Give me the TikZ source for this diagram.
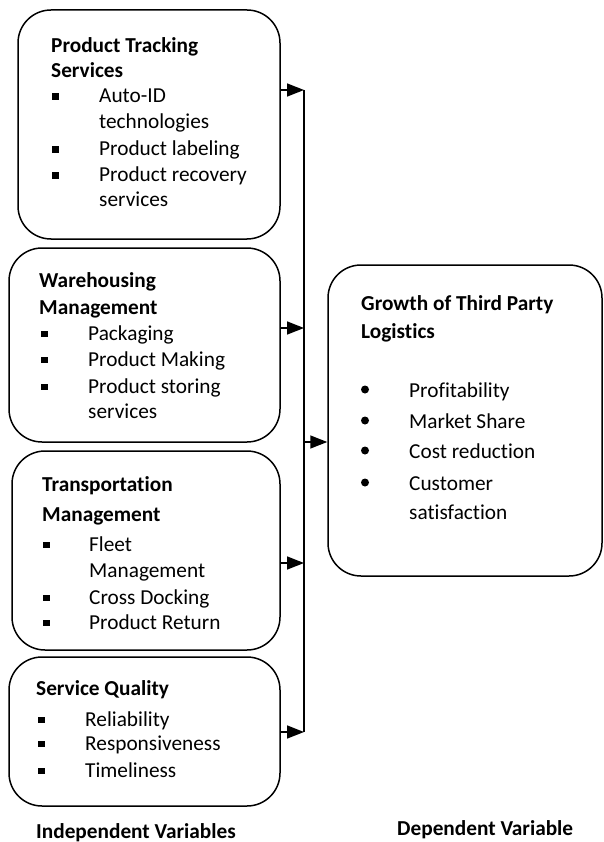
\documentclass[tikz,border=0pt]{standalone}
\usepackage{fontspec}
\setmainfont[Ligatures=NoCommon]{Carlito}
\usetikzlibrary{arrows.meta}
\tikzset{
  box/.style={draw, line width=1.5pt, rounded corners=33pt, inner sep=0pt},
  hd/.style={anchor=base west, inner sep=0pt, font=\fontsize{21.3}{25}\selectfont\bfseries},
  it/.style={anchor=base west, inner sep=0pt, font=\fontsize{21.3}{25}\selectfont},
  arr/.style={line width=1.5pt, -{Triangle[length=17pt,width=13pt]}},
  trunk/.style={line width=1.5pt},
}
\begin{document}
\begin{tikzpicture}[x=1pt,y=-1pt]
\useasboundingbox (0,0) rectangle (604,842);
% boxes
\node[box, minimum width=262pt, minimum height=229pt] (b1) at (149,124.5) {};
\node[box, minimum width=271pt, minimum height=194pt] (b2) at (144.5,345) {};
\node[box, minimum width=268pt, minimum height=199pt] (b3) at (146,550.5) {};
\node[box, minimum width=271pt, minimum height=149pt] (b4) at (144.5,731.5) {};
\node[box, minimum width=274pt, minimum height=311pt] (R) at (465,420.5) {};
% box 1 text
\foreach \y/\t in {53/Product Tracking,78/Services} \node[hd] (b1h\y) at (51,\y) {\t};
\foreach \y/\t in {103/Auto-ID,156/Product labeling,182/Product recovery}{
  \fill (52,\y-3) rectangle +(6.5,-6.5);
  \node[it] (b1i\y) at (99,\y) {\t};}
\foreach \y/\t in {129/technologies,207/services} \node[it] (b1c\y) at (99,\y) {\t};
% box 2 text
\foreach \y/\t in {287/Warehousing,314/Management} \node[hd] (b2h\y) at (39,\y) {\t};
\foreach \y/\t in {340/Packaging,366/Product Making,393/Product storing}{
  \fill (41,\y-3) rectangle +(6.5,-6.5);
  \node[it] (b2i\y) at (88,\y) {\t};}
\node[it] (b2c418) at (88,418) {services};
% box 3 text
\foreach \y/\t in {491/Transportation,521/Management} \node[hd] (b3h\y) at (42,\y) {\t};
\foreach \y/\t in {551/Fleet,604/Cross Docking,629/Product Return}{
  \fill (43,\y-3) rectangle +(6.5,-6.5);
  \node[it] (b3i\y) at (89,\y) {\t};}
\node[it] (b3c577) at (89,577) {Management};
% box 4 text
\node[hd] (b4h695) at (36,695) {Service Quality};
\foreach \y/\t in {726/Reliability,750/Responsiveness,777/Timeliness}{
  \fill (38,\y-3) rectangle +(6.5,-6.5);
  \node[it] (b4i\y) at (85,\y) {\t};}
% right box text
\foreach \y/\t in {310/Growth of Third Party,338/Logistics} \node[hd] (rh\y) at (361,\y) {\t};
\foreach \y/\t in {397/Profitability,428/Market Share,458/Cost reduction,490/Customer}{
  \fill (365,\y-7.5) circle (4);
  \node[it] (ri\y) at (409,\y) {\t};}
\node[it] (rc519) at (409,519) {satisfaction};
% bottom labels
\node[hd] (indep) at (36,838) {Independent Variables};
\node[hd] (dep) at (397,835) {Dependent Variable};
% connectors
\coordinate (j1) at (304,90);
\coordinate (j2) at (304,328);
\coordinate (j3) at (304,563);
\coordinate (j4) at (304,732);
\coordinate (jc) at (304,442);
\draw[trunk] (j1) -- (j4);
\draw[arr] (b1.east |- j1) -- (j1);
\draw[arr] (b2.east |- j2) -- (j2);
\draw[arr] (b3.east |- j3) -- (j3);
\draw[arr] (b4.east |- j4) -- (j4);
\draw[arr] (jc) -- (R.west |- jc);
\end{tikzpicture}
\end{document}
